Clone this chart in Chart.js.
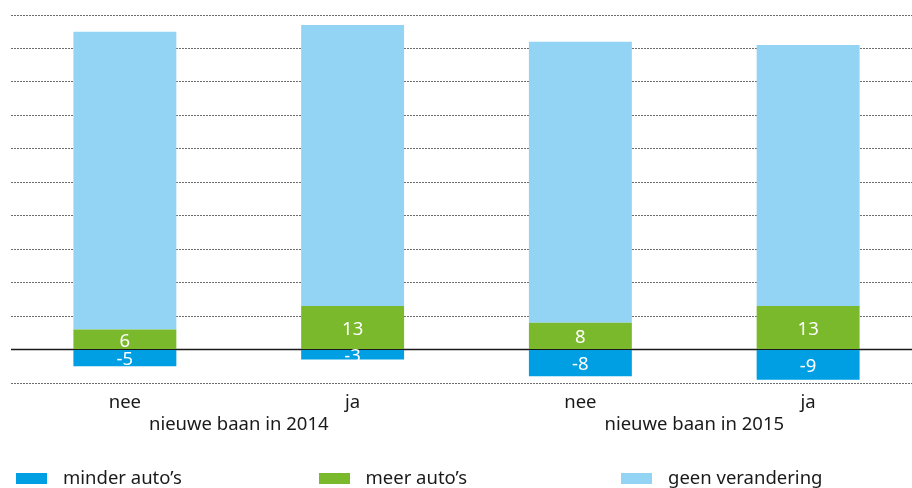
<!DOCTYPE html>
<html>
<head>
<meta charset="utf-8">
<script src="https://cdn.jsdelivr.net/npm/chart.js@4/dist/chart.umd.min.js"></script>
<style>
  html, body { margin: 0; padding: 0; overflow: hidden; background: #fff; width: 912px; height: 488px; }
  #wrap { position: relative; width: 912px; height: 488px; overflow: hidden; }
  #c { position: absolute; left: 0; top: 0; }
  .lg-box { position: absolute; width: 31px; height: 11px; top: 473px; }
  .lg-text { position: absolute; top: 467px; line-height: 20px; font-family: "Noto Sans", sans-serif; font-size: 18.5px; color: #1a1a1a; white-space: nowrap; }
</style>
</head>
<body>
<div id="wrap">
  <canvas id="c" width="923" height="488"></canvas>
  <div id="legend"></div>
</div>
<script>
// Categories: answer per group, and the two groups below them
const categories = ['nee', 'ja', 'nee', 'ja'];
const groups = ['nieuwe baan in 2014', 'nieuwe baan in 2015'];

// Series (percentages)
const seriesNames = ['minder auto’s', 'meer auto’s', 'geen verandering'];
const minderAutos = [-5, -3, -8, -9];
const meerAutos = [6, 13, 8, 13];
const geenVerandering = [89, 84, 84, 78];

// Value axis range and step
const yMin = -10;
const yMax = 100;
const yStep = 10;

const colors = ['#009FE3', '#7AB92C', '#93D3F4'];
const textColor = '#1a1a1a';
const fontSize = 18.5;

Chart.defaults.font.family = '"Noto Sans", sans-serif';
Chart.defaults.font.size = fontSize;
Chart.defaults.color = textColor;

// Solid baseline at zero, drawn beneath the bars
const zeroLine = {
  id: 'zeroLine',
  beforeDatasetsDraw(chart) {
    const { ctx, chartArea, scales } = chart;
    const py = scales.y.getPixelForValue(0);
    ctx.save();
    ctx.strokeStyle = '#1a1a1a';
    ctx.lineWidth = 1.5;
    ctx.beginPath();
    ctx.moveTo(chartArea.left, py);
    ctx.lineTo(chartArea.right, py);
    ctx.stroke();
    ctx.restore();
  }
};

// White value labels inside the "minder" and "meer" segments
const valueLabels = {
  id: 'valueLabels',
  afterDatasetsDraw(chart) {
    const ctx = chart.ctx;
    ctx.save();
    ctx.font = fontSize + 'px "Noto Sans"';
    ctx.fillStyle = '#ffffff';
    ctx.textAlign = 'center';
    ctx.textBaseline = 'middle';
    [0, 1].forEach(di => {
      const meta = chart.getDatasetMeta(di);
      meta.data.forEach((bar, i) => {
        const { x, y, base } = bar.getProps(['x', 'y', 'base'], true);
        ctx.fillText(String(chart.data.datasets[di].data[i]), x, (y + base) / 2 + 2);
      });
    });
    ctx.restore();
  }
};

const seriesData = [minderAutos, meerAutos, geenVerandering];

const chart = new Chart(document.getElementById('c'), {
  type: 'bar',
  data: {
    labels: categories,
    datasets: seriesNames.map((name, i) => ({
      label: name,
      data: seriesData[i],
      backgroundColor: colors[i],
      borderWidth: 0,
      barPercentage: 0.452,
      categoryPercentage: 1
    }))
  },
  options: {
    responsive: false,
    devicePixelRatio: 1,
    animation: false,
    layout: { padding: { left: 11, right: 1, top: 15, bottom: 33 } },
    plugins: {
      legend: { display: false },
      tooltip: { enabled: false }
    },
    scales: {
      x: {
        stacked: true,
        grid: { display: false, drawTicks: false },
        border: { display: false },
        ticks: { padding: 8.4, autoSkip: false, maxRotation: 0, color: textColor },
        afterFit(s) { s.height = 32; }
      },
      x2: {
        type: 'category',
        labels: groups,
        position: 'bottom',
        offset: true,
        weight: 1,
        grid: { display: false, drawTicks: false },
        border: { display: false },
        ticks: { padding: -1.6, autoSkip: false, maxRotation: 0, color: textColor },
        afterFit(s) { s.height = 40; }
      },
      y: {
        stacked: true,
        min: yMin,
        max: yMax,
        ticks: { stepSize: yStep, display: false },
        grid: {
          drawTicks: false,
          lineWidth: 1,
          color: ctx => (ctx.tick && ctx.tick.value === 0) ? 'rgba(0,0,0,0)' : '#6e6e6e'
        },
        border: { display: false, dash: [2, 1] },
        afterFit(s) { s.width = 0; }
      }
    }
  },
  plugins: [zeroLine, valueLabels]
});

// Legend row built from the chart's datasets
const legendEl = document.getElementById('legend');
chart.data.datasets.forEach((ds, i) => {
  const left = 16 + i * 302.5;
  const box = document.createElement('div');
  box.className = 'lg-box';
  box.style.left = left + 'px';
  box.style.background = ds.backgroundColor;
  const txt = document.createElement('div');
  txt.className = 'lg-text';
  txt.style.left = (left + 47) + 'px';
  txt.textContent = ds.label;
  legendEl.appendChild(box);
  legendEl.appendChild(txt);
});
</script>
</body>
</html>
